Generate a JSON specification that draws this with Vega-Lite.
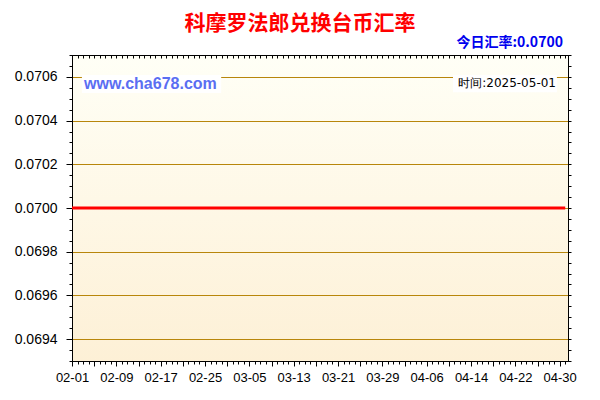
{
  "$schema": "https://vega.github.io/schema/vega-lite/v6.json",
  "width": 496,
  "height": 306,
  "autosize": "none",
  "padding": {"left": 72, "top": 55, "right": 32, "bottom": 39},
  "background": "#ffffff",
  "title": {"text": "科摩罗法郎兑换台币汇率", "color": "#ff0000", "fontSize": 21, "fontWeight": "bold", "font": "Noto Sans CJK SC", "anchor": "middle", "dx": -20, "offset": 2},
  "config": {
    "view": {"fill": {"gradient": "linear", "x1": 0, "y1": 0, "x2": 0, "y2": 1, "stops": [{"offset": 0, "color": "#fffff6"}, {"offset": 1, "color": "#fdf0d6"}]}, "stroke": "#000000", "strokeWidth": 1},
    "axis": {"labelFont": "Liberation Sans", "labelColor": "#000000", "domainColor": "#000000", "tickColor": "#000000", "title": null}
  },
  "datasets": {
    "rates": [
    {"d": "2025-02-01", "v": 0.07}, {"d": "2025-02-02", "v": 0.07}, {"d": "2025-02-03", "v": 0.07}, {"d": "2025-02-04", "v": 0.07}, {"d": "2025-02-05", "v": 0.07}, {"d": "2025-02-06", "v": 0.07}, {"d": "2025-02-07", "v": 0.07}, {"d": "2025-02-08", "v": 0.07}, {"d": "2025-02-09", "v": 0.07}, {"d": "2025-02-10", "v": 0.07},
    {"d": "2025-02-11", "v": 0.07}, {"d": "2025-02-12", "v": 0.07}, {"d": "2025-02-13", "v": 0.07}, {"d": "2025-02-14", "v": 0.07}, {"d": "2025-02-15", "v": 0.07}, {"d": "2025-02-16", "v": 0.07}, {"d": "2025-02-17", "v": 0.07}, {"d": "2025-02-18", "v": 0.07}, {"d": "2025-02-19", "v": 0.07}, {"d": "2025-02-20", "v": 0.07},
    {"d": "2025-02-21", "v": 0.07}, {"d": "2025-02-22", "v": 0.07}, {"d": "2025-02-23", "v": 0.07}, {"d": "2025-02-24", "v": 0.07}, {"d": "2025-02-25", "v": 0.07}, {"d": "2025-02-26", "v": 0.07}, {"d": "2025-02-27", "v": 0.07}, {"d": "2025-02-28", "v": 0.07},
    {"d": "2025-03-01", "v": 0.07}, {"d": "2025-03-02", "v": 0.07}, {"d": "2025-03-03", "v": 0.07}, {"d": "2025-03-04", "v": 0.07}, {"d": "2025-03-05", "v": 0.07}, {"d": "2025-03-06", "v": 0.07}, {"d": "2025-03-07", "v": 0.07}, {"d": "2025-03-08", "v": 0.07}, {"d": "2025-03-09", "v": 0.07}, {"d": "2025-03-10", "v": 0.07},
    {"d": "2025-03-11", "v": 0.07}, {"d": "2025-03-12", "v": 0.07}, {"d": "2025-03-13", "v": 0.07}, {"d": "2025-03-14", "v": 0.07}, {"d": "2025-03-15", "v": 0.07}, {"d": "2025-03-16", "v": 0.07}, {"d": "2025-03-17", "v": 0.07}, {"d": "2025-03-18", "v": 0.07}, {"d": "2025-03-19", "v": 0.07}, {"d": "2025-03-20", "v": 0.07},
    {"d": "2025-03-21", "v": 0.07}, {"d": "2025-03-22", "v": 0.07}, {"d": "2025-03-23", "v": 0.07}, {"d": "2025-03-24", "v": 0.07}, {"d": "2025-03-25", "v": 0.07}, {"d": "2025-03-26", "v": 0.07}, {"d": "2025-03-27", "v": 0.07}, {"d": "2025-03-28", "v": 0.07}, {"d": "2025-03-29", "v": 0.07}, {"d": "2025-03-30", "v": 0.07},
    {"d": "2025-03-31", "v": 0.07},
    {"d": "2025-04-01", "v": 0.07}, {"d": "2025-04-02", "v": 0.07}, {"d": "2025-04-03", "v": 0.07}, {"d": "2025-04-04", "v": 0.07}, {"d": "2025-04-05", "v": 0.07}, {"d": "2025-04-06", "v": 0.07}, {"d": "2025-04-07", "v": 0.07}, {"d": "2025-04-08", "v": 0.07}, {"d": "2025-04-09", "v": 0.07}, {"d": "2025-04-10", "v": 0.07},
    {"d": "2025-04-11", "v": 0.07}, {"d": "2025-04-12", "v": 0.07}, {"d": "2025-04-13", "v": 0.07}, {"d": "2025-04-14", "v": 0.07}, {"d": "2025-04-15", "v": 0.07}, {"d": "2025-04-16", "v": 0.07}, {"d": "2025-04-17", "v": 0.07}, {"d": "2025-04-18", "v": 0.07}, {"d": "2025-04-19", "v": 0.07}, {"d": "2025-04-20", "v": 0.07},
    {"d": "2025-04-21", "v": 0.07}, {"d": "2025-04-22", "v": 0.07}, {"d": "2025-04-23", "v": 0.07}, {"d": "2025-04-24", "v": 0.07}, {"d": "2025-04-25", "v": 0.07}, {"d": "2025-04-26", "v": 0.07}, {"d": "2025-04-27", "v": 0.07}, {"d": "2025-04-28", "v": 0.07}, {"d": "2025-04-29", "v": 0.07}, {"d": "2025-04-30", "v": 0.07},
    {"d": "2025-05-01", "v": 0.07}
    ],
    "one": [{"label": "annotation"}]
  },
  "resolve": {"axis": {"x": "independent", "y": "independent"}},
  "layer": [
    {
      "data": {"name": "rates"},
      "mark": {"type": "line", "color": "#ff0000", "strokeWidth": 3, "clip": true},
      "encoding": {
        "x": {"field": "d", "type": "temporal",
          "scale": {"type": "utc", "domain": [{"year": 2025, "month": 2, "date": 1, "utc": true}, {"year": 2025, "month": 5, "date": 1, "hours": 12, "utc": true}]},
          "axis": {"orient": "bottom", "grid": false, "tickCount": {"interval": "day", "step": 1},
            "labelExpr": "round((datum.value - utc(2025,1,1))/864e5) % 8 == 0 ? utcFormat(datum.value, '%m-%d') : ''",
            "labelOverlap": false, "labelFlush": false, "labelFontSize": 13, "labelPadding": 5,
            "tickSize": {"condition": {"test": "round((datum.value - utc(2025,1,1))/864e5) % 4 == 0", "value": 5}, "value": 3}}},
        "y": {"field": "v", "type": "quantitative",
          "scale": {"domain": [0.0693, 0.0707], "nice": false, "zero": false},
          "axis": {"orient": "left",
            "values": [0.0693, 0.06935, 0.0694, 0.06945, 0.0695, 0.06955, 0.0696, 0.06965, 0.0697, 0.06975, 0.0698, 0.06985, 0.0699, 0.06995, 0.07, 0.07005, 0.0701, 0.07015, 0.0702, 0.07025, 0.0703, 0.07035, 0.0704, 0.07045, 0.0705, 0.07055, 0.0706, 0.07065, 0.0707],
            "labelExpr": "abs(datum.value*5000 - round(datum.value*5000)) < 0.01 ? format(datum.value, '.4f') : ''",
            "labelFontSize": 14, "labelPadding": 9, "labelOverlap": false, "labelFlush": false,
            "tickSize": {"condition": {"test": "abs(datum.value*5000 - round(datum.value*5000)) < 0.01", "value": 6}, "value": 3},
            "grid": true, "gridColor": "#b8860b", "gridWidth": 1,
            "gridOpacity": {"condition": {"test": "abs(datum.value*5000 - round(datum.value*5000)) < 0.01", "value": 1}, "value": 0}}}
      }
    },
    {
      "data": {"name": "rates"},
      "mark": {"type": "point", "opacity": 0},
      "encoding": {
        "x": {"field": "d", "type": "temporal",
          "axis": {"orient": "top", "grid": false, "labels": false, "tickCount": {"interval": "day", "step": 1}, "tickSize": -3}},
        "y": {"field": "v", "type": "quantitative",
          "axis": {"orient": "right", "grid": false, "labels": false,
            "values": [0.0693, 0.06935, 0.0694, 0.06945, 0.0695, 0.06955, 0.0696, 0.06965, 0.0697, 0.06975, 0.0698, 0.06985, 0.0699, 0.06995, 0.07, 0.07005, 0.0701, 0.07015, 0.0702, 0.07025, 0.0703, 0.07035, 0.0704, 0.07045, 0.0705, 0.07055, 0.0706, 0.07065, 0.0707],
            "tickSize": 3}}
      }
    },
    {
      "data": {"name": "one"},
      "mark": {"type": "rect", "fill": "#ffffff"},
      "encoding": {
        "x": {"datum": {"year": 2025, "month": 2, "date": 2, "hours": 19, "utc": true}, "axis": null},
        "x2": {"datum": {"year": 2025, "month": 2, "date": 27, "hours": 22, "utc": true}},
        "y": {"datum": 0.070608, "axis": null},
        "y2": {"datum": 0.070526}
      }
    },
    {
      "data": {"name": "one"},
      "mark": {"type": "rect", "fill": "#ffffff"},
      "encoding": {
        "x": {"datum": {"year": 2025, "month": 4, "date": 10, "hours": 18, "utc": true}, "axis": null},
        "x2": {"datum": {"year": 2025, "month": 4, "date": 29, "hours": 12, "utc": true}},
        "y": {"datum": 0.070608, "axis": null},
        "y2": {"datum": 0.07053}
      }
    },
    {
      "data": {"name": "one"},
      "mark": {"type": "text", "text": "www.cha678.com", "align": "left", "baseline": "middle", "font": "Liberation Sans", "fontSize": 16, "fontWeight": "bold", "fill": "#5a6ef2"},
      "encoding": {
        "x": {"datum": {"year": 2025, "month": 2, "date": 3, "hours": 4, "utc": true}, "axis": null},
        "y": {"datum": 0.070567, "axis": null}
      }
    },
    {
      "data": {"name": "one"},
      "mark": {"type": "text", "text": "时间:2025-05-01", "align": "right", "baseline": "middle", "font": "DejaVu Sans", "fontSize": 12, "fill": "#000000"},
      "encoding": {
        "x": {"datum": {"year": 2025, "month": 4, "date": 29, "hours": 8, "utc": true}, "axis": null},
        "y": {"datum": 0.07057, "axis": null}
      }
    },
    {
      "data": {"name": "one"},
      "mark": {"type": "text", "text": "今日汇率:0.0700", "align": "right", "baseline": "middle", "font": "Noto Sans CJK SC", "fontSize": 14, "fontWeight": "bold", "fill": "#0000ee"},
      "encoding": {
        "x": {"datum": {"year": 2025, "month": 4, "date": 30, "hours": 14, "utc": true}, "axis": null},
        "y": {"datum": 0.070757, "axis": null}
      }
    }
  ]
}
